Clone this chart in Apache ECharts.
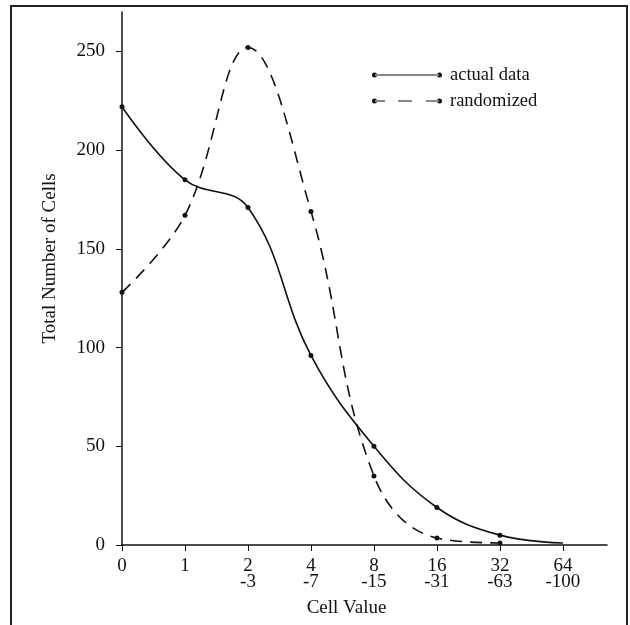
<!DOCTYPE html>
<html>
<head>
<meta charset="utf-8">
<script src="https://cdn.jsdelivr.net/npm/echarts@6/dist/echarts.min.js"></script>
<style>
  html, body { margin: 0; padding: 0; background: #fff; }
  #chart { width: 630px; height: 625px; }
</style>
</head>
<body>
<div id="chart"></div>
<script>
// x categories (cell value bins), placed at index positions 0..7
var xLabels = ['0', '1', '2\n-3', '4\n-7', '8\n-15', '16\n-31', '32\n-63', '64\n-100']
var actualData = [222, 185, 171, 96, 50, 19, 5, 1]
var randomData = [128, 167, 252, 169, 35, 3.5, 1]
var yTicks = [0, 50, 100, 150, 200, 250]

var chart = echarts.init(document.getElementById('chart'))

function toPoints(arr) {
  return arr.map(function (v, i) { return [i, v] })
}

// legend icons: line with a dot at each end
var solidIcon = 'path://M0,3a2.5,2.5 0 1,0 5,0a2.5,2.5 0 1,0 -5,0Z' +
  'M3,2.4h64v1.2h-64Z' +
  'M65,3a2.5,2.5 0 1,0 5,0a2.5,2.5 0 1,0 -5,0Z'
var dashIcon = 'path://M0,3a2.5,2.5 0 1,0 5,0a2.5,2.5 0 1,0 -5,0Z' +
  'M3,2.4h10v1.2h-10Z' +
  'M26,2.4h14v1.2h-14Z' +
  'M54,2.4h13v1.2h-13Z' +
  'M65,3a2.5,2.5 0 1,0 5,0a2.5,2.5 0 1,0 -5,0Z'

var actualPts = toPoints(actualData)
// last point of actual data has no marker
actualPts[actualPts.length - 1] = { value: actualPts[actualPts.length - 1], symbol: 'none' }

var option = {
  animation: false,
  backgroundColor: '#fff',
  textStyle: { fontFamily: 'Liberation Serif', color: '#111' },
  graphic: [{
    type: 'rect',
    shape: { x: 11, y: 6, width: 616, height: 700 },
    style: { fill: 'none', stroke: '#222', lineWidth: 2 }
  }],
  grid: { left: 122, top: 12, right: 23, bottom: 80 },
  legend: {
    orient: 'vertical',
    left: 367,
    top: 60,
    itemWidth: 70,
    itemHeight: 5,
    itemGap: 6,
    textStyle: { fontFamily: 'Liberation Serif', fontSize: 18.5, lineHeight: 20, color: '#111', padding: [0, 0, 0, 3] },
    data: [
      { name: 'actual data', icon: solidIcon, itemStyle: { color: '#111' } },
      { name: 'randomized', icon: dashIcon, itemStyle: { color: '#111' } }
    ]
  },
  xAxis: {
    type: 'value',
    min: 0,
    max: 7.7,
    name: 'Cell Value',
    nameLocation: 'middle',
    nameGap: 54,
    nameTextStyle: { fontFamily: 'Liberation Serif', fontSize: 19, color: '#111', padding: [0, 36, 0, 0] },
    axisLine: { show: true, lineStyle: { color: '#111', width: 1.5 } },
    axisTick: { show: true, length: 6, lineStyle: { color: '#111' }, customValues: [0, 1, 2, 3, 4, 5, 6, 7] },
    axisLabel: {
      customValues: [0, 1, 2, 3, 4, 5, 6, 7],
      fontFamily: 'Liberation Serif',
      fontSize: 19,
      lineHeight: 16,
      color: '#111',
      margin: 13,
      formatter: function (v) { return xLabels[Math.round(v)] }
    },
    splitLine: { show: false }
  },
  yAxis: {
    type: 'value',
    min: 0,
    max: 270,
    name: 'Total Number of Cells',
    nameLocation: 'middle',
    nameGap: 62,
    nameRotate: 90,
    nameTextStyle: { fontFamily: 'Liberation Serif', fontSize: 19, color: '#111', padding: [0, 0, 0, 40] },
    axisLine: { show: true, lineStyle: { color: '#111', width: 1.5 } },
    axisTick: { show: true, length: 6, lineStyle: { color: '#111' }, customValues: yTicks },
    axisLabel: {
      customValues: yTicks,
      fontFamily: 'Liberation Serif',
      fontSize: 19,
      color: '#111',
      margin: 17
    },
    splitLine: { show: false }
  },
  series: [
    {
      name: 'actual data',
      type: 'line',
      smooth: 0.4,
      symbol: 'circle',
      symbolSize: 5,
      itemStyle: { color: '#111' },
      lineStyle: { color: '#111', width: 1.6 },
      data: actualPts
    },
    {
      name: 'randomized',
      type: 'line',
      smooth: 0.4,
      symbol: 'circle',
      symbolSize: 5,
      itemStyle: { color: '#111' },
      lineStyle: { color: '#111', width: 1.6, type: [12, 8] },
      data: toPoints(randomData)
    }
  ]
}
chart.setOption(option)
</script>
</body>
</html>
